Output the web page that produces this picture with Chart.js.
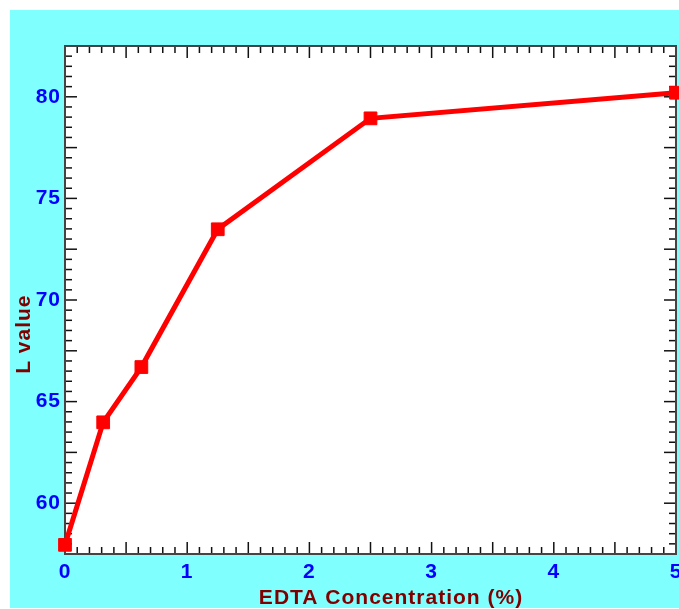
<!DOCTYPE html>
<html><head><meta charset="utf-8">
<script src="https://cdn.jsdelivr.net/npm/chart.js@4.4.0/dist/chart.umd.min.js"></script>
<style>
html,body{margin:0;padding:0;background:#fff;width:679px;height:609px;overflow:hidden;position:relative;}
#bg{position:absolute;left:10px;top:10px;width:669px;height:598px;background:#80ffff;}
#c{position:absolute;left:0;top:0;}
</style></head><body>
<div id="bg"></div>
<canvas id="c" width="686" height="609"></canvas>
<script>
const concentration = [0, 0.3125, 0.625, 1.25, 2.5, 5];
const lValue = [57.95, 63.98, 66.7, 73.48, 78.94, 80.2];
const xTicks = [0, 1, 2, 3, 4, 5];
const yTicks = [60, 65, 70, 75, 80];
const xTitle = 'EDTA Concentration (%)';
const yTitle = 'L value';

const FONT = 'Liberation Sans, Arial, sans-serif';

const frame = {
  id: 'frame',
  beforeDraw(chart) {
    const {ctx, chartArea: a} = chart;
    ctx.save();
    ctx.fillStyle = '#ffffff';
    ctx.fillRect(a.left, a.top, a.right - a.left, a.bottom - a.top);
    ctx.restore();
    ctx.letterSpacing = '1px';
  },
  beforeDatasetsDraw(chart) {
    const {ctx, chartArea: a, scales: {x, y}} = chart;
    ctx.save();
    ctx.strokeStyle = '#111';
    ctx.lineWidth = 1.5;
    const seg = (x1, y1, x2, y2) => { ctx.beginPath(); ctx.moveTo(x1, y1); ctx.lineTo(x2, y2); ctx.stroke(); };
    for (let i = 0; i <= 50; i++) {
      const px = x.getPixelForValue(i / 10);
      const len = i % 5 === 0 ? 12 : 7;
      seg(px, a.bottom, px, a.bottom - len);
      seg(px, a.top, px, a.top + len);
    }
    for (let i = 0; i <= 50; i++) {
      const py = y.getPixelForValue(57.5 + i * 0.5);
      const len = i % 5 === 0 ? 12 : 7;
      seg(a.left, py, a.left + len, py);
      seg(a.right, py, a.right - len, py);
    }
    ctx.strokeStyle = '#444';
    ctx.lineWidth = 2;
    ctx.strokeRect(a.left, a.top, a.right - a.left, a.bottom - a.top);
    ctx.restore();
  }
};

new Chart(document.getElementById('c'), {
  type: 'line',
  data: {
    datasets: [{
      data: concentration.map((v, i) => ({x: v, y: lValue[i]})),
      borderColor: '#ff0000',
      borderWidth: 5,
      pointStyle: 'rect',
      pointRadius: 9,
      pointBackgroundColor: '#ff0000',
      pointBorderColor: '#ff0000',
      pointBorderWidth: 1,
      tension: 0,
      clip: false
    }]
  },
  options: {
    responsive: false,
    animation: false,
    devicePixelRatio: 1,
    layout: {padding: {left: 0, right: 2, top: 46, bottom: 0}},
    plugins: {legend: {display: false}, tooltip: {enabled: false}},
    scales: {
      x: {
        type: 'linear', min: 0, max: 5,
        afterBuildTicks: s => { s.ticks = xTicks.map(v => ({value: v})); },
        afterFit: s => { s.height = 55; s.paddingLeft = 0; s.paddingRight = 0; },
        grid: {display: false, drawTicks: false},
        border: {display: false},
        ticks: {color: '#0000ff', font: {family: FONT, size: 21, weight: 'bold'}, padding: 6, maxRotation: 0, autoSkip: false},
        title: {display: true, text: '      ' + xTitle, color: '#800000', font: {family: FONT, size: 21, weight: 'bold'}, padding: {top: 0, bottom: -2}}
      },
      y: {
        type: 'linear', min: 57.5, max: 82.5,
        afterBuildTicks: s => { s.ticks = yTicks.map(v => ({value: v})); },
        afterFit: s => { s.width = 65; s.paddingTop = 0; s.paddingBottom = 0; },
        grid: {display: false, drawTicks: false},
        border: {display: false},
        ticks: {color: '#0000ff', font: {family: FONT, size: 21, weight: 'bold'}, padding: 4, autoSkip: false},
        title: {display: true, text: yTitle + '          ', color: '#800000', font: {family: FONT, size: 21, weight: 'bold'}, padding: {top: 12, bottom: 0}}
      }
    }
  },
  plugins: [frame]
});
</script>
</body></html>
